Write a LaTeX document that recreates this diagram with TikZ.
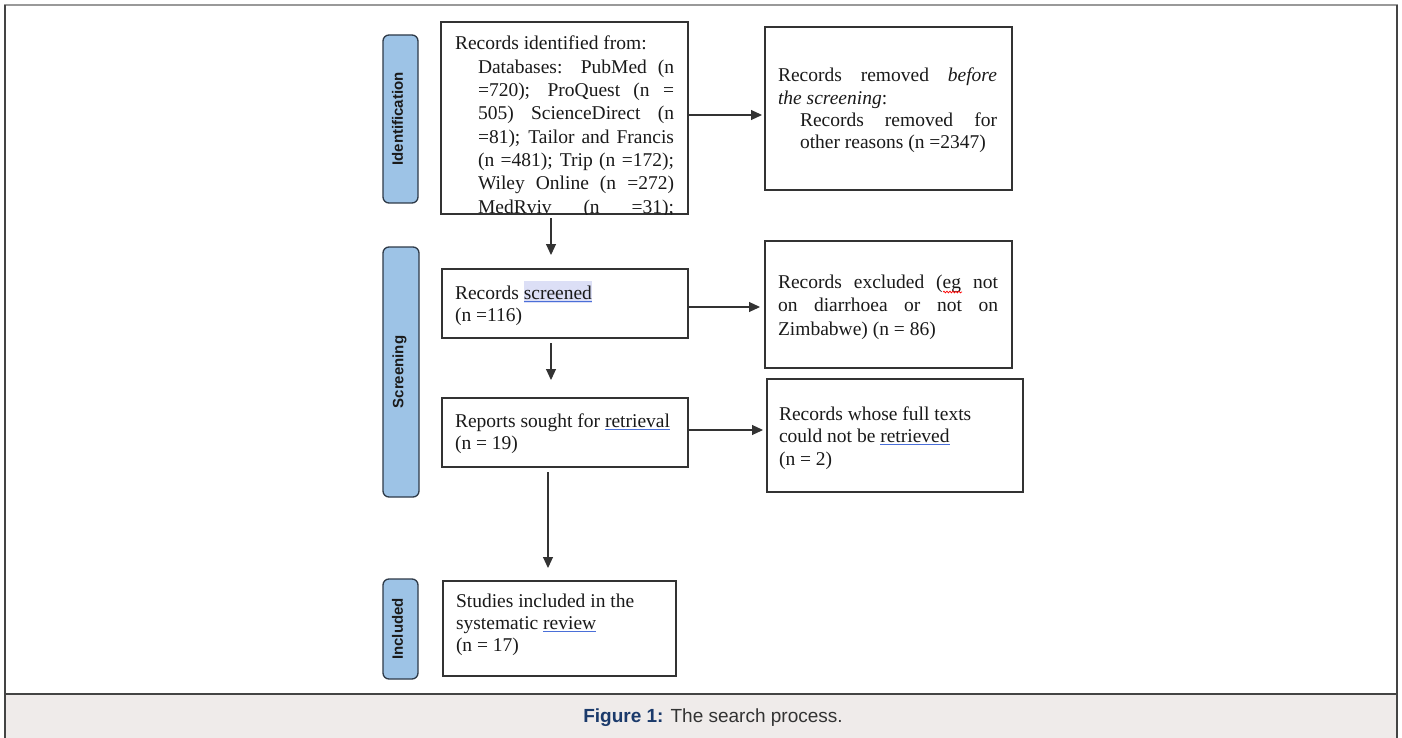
\documentclass[tikz,border=0pt]{standalone}
\usepackage{fontspec}
\setmainfont{Liberation Serif}
\setsansfont{Liberation Sans}
\usetikzlibrary{arrows.meta,decorations.pathmorphing}
\definecolor{pillfill}{HTML}{9DC3E6}
\definecolor{pillline}{HTML}{2E3A48}
\definecolor{boxline}{HTML}{333333}
\definecolor{txt}{HTML}{1A1A1A}
\definecolor{ulblue}{HTML}{4A6FD8}
\definecolor{hlcol}{HTML}{DCDFF6}
\definecolor{capbg}{HTML}{EFEBEA}
\definecolor{capblue}{HTML}{1B3A6B}
\definecolor{captxt}{HTML}{333333}
\definecolor{framedark}{HTML}{444444}
\definecolor{framegray}{HTML}{999999}
\newcommand{\jl}[2]{\hbox to #1{\spaceskip=0.25em plus 3em minus 0.08em\relax #2}}
\newcommand{\bul}[1]{{\setbox0\hbox{#1}\rlap{\textcolor{ulblue}{\rule[-2.8pt]{\wd0}{1.1pt}}}\box0}}
\newcommand{\hlbul}[1]{{\setbox0\hbox{#1}\rlap{\textcolor{hlcol}{\rule[-3.5pt]{\wd0}{22pt}}}\rlap{\textcolor{ulblue}{\rule[-2.8pt]{\wd0}{1.1pt}}}\box0}}
\begin{document}
\begin{tikzpicture}[x=1pt,y=-1pt,
  every node/.style={inner sep=0pt,outer sep=0pt},
  box/.style={draw=boxline,line width=1.1pt,rectangle},
  pill/.style={draw=pillline,fill=pillfill,line width=1.3pt,rounded corners=6pt,rectangle},
  pilllabel/.style={font=\sffamily\bfseries\fontsize{15pt}{18pt}\selectfont,text=txt,rotate=90,anchor=mid},
  btext/.style={anchor=base west,text=txt,font=\fontsize{19.5pt}{23pt}\selectfont},
  arr/.style={draw=boxline,line width=1.1pt,-{Triangle[length=11pt,width=10pt]}}]
\useasboundingbox (0,0) rectangle (1402,738);
\fill[white] (0,0) rectangle (1402,738);
% caption band and frame
\fill[capbg] (5,694) rectangle (1397,738);
\draw[framegray,line width=2pt] (4,5) -- (1398,5);
\draw[framedark,line width=2pt] (5,5) -- (5,738);
\draw[framedark,line width=2pt] (1397,5) -- (1397,738);
\draw[framedark,line width=1.5pt] (5,694) -- (1397,694);
\node[anchor=base,font=\sffamily\fontsize{19pt}{23pt}\selectfont,text=captxt] (cap) at (713,722)
  {\textcolor{capblue}{\bfseries Figure 1:} The search process.};

% side pills
\node[pill,minimum width=35pt,minimum height=168pt] (pid) at (400.5,119) {};
\node[pill,minimum width=36pt,minimum height=250pt] (pscr) at (401,372) {};
\node[pill,minimum width=35pt,minimum height=100pt] (pinc) at (400.5,629) {};
\node[pilllabel] (lid) at (pid.center) {Identification};
\node[pilllabel] (lscr) at (pscr.center) {Screening};
\node[pilllabel] (linc) at (pinc.center) {Included};

% boxes
\node[box,minimum width=247pt,minimum height=192pt] (id) at (564.5,118) {};
\node[box,minimum width=247pt,minimum height=163pt] (rem) at (888.5,108.5) {};
\node[box,minimum width=246pt,minimum height=69pt] (scr) at (565,303.5) {};
\node[box,minimum width=247pt,minimum height=127pt] (exc) at (888.5,304.5) {};
\node[box,minimum width=246pt,minimum height=69pt] (sgt) at (565,432.5) {};
\node[box,minimum width=256pt,minimum height=113pt] (nrt) at (895,435.5) {};
\node[box,minimum width=233pt,minimum height=95pt] (inc) at (559.5,628.5) {};

% texts
\begin{scope}
\clip (441,22) rectangle (688,214);
\node[btext] (tid) at (455,50) {\parbox[t]{230pt}{\baselineskip=23.3pt
  \hbox{Records identified from:}
  \moveright 23pt \jl{196pt}{Databases: PubMed (n}
  \moveright 23pt \jl{196pt}{=720); ProQuest (n =}
  \moveright 23pt \jl{196pt}{505) ScienceDirect (n}
  \moveright 23pt \jl{196pt}{=81); Tailor and Francis}
  \moveright 23pt \jl{196pt}{(n =481); Trip (n =172);}
  \moveright 23pt \jl{196pt}{Wiley Online (n =272)}
  \moveright 23pt \jl{196pt}{MedRviv (n =31);}}};
\end{scope}
\node[btext] (trem) at (778,82) {\parbox[t]{225pt}{\baselineskip=22.2pt
  \jl{219pt}{Records removed \textit{before}}
  \hbox{\textit{the screening}:}
  \moveright 22pt \jl{197pt}{Records removed for}
  \moveright 22pt \hbox{other reasons (n =2347)}}};
\node[btext] (tscr) at (455,299) {\parbox[t]{225pt}{\baselineskip=22pt
  \hbox{Records \hlbul{screened}}
  \hbox{(n =116)}}};
\node[btext] (texc) at (778,288) {\parbox[t]{225pt}{\baselineskip=23.5pt
  \jl{220pt}{Records excluded (eg not}
  \jl{220pt}{on diarrhoea or not on}
  \hbox{Zimbabwe) (n = 86)}}};
\node[btext] (tsgt) at (455,427) {\parbox[t]{225pt}{\baselineskip=22pt
  \hbox{Reports sought for \bul{retrieval}}
  \hbox{(n = 19)}}};
\node[btext] (tnrt) at (779,420) {\parbox[t]{235pt}{\baselineskip=22.5pt
  \hbox{Records whose full texts}
  \hbox{could not be \bul{retrieved}}
  \hbox{(n = 2)}}};
\node[btext] (tinc) at (456,607) {\parbox[t]{215pt}{\baselineskip=22pt
  \hbox{Studies included in the}
  \hbox{systematic \bul{review}}
  \hbox{(n = 17)}}};
\draw[red,line width=0.7pt,decorate,decoration={snake,segment length=3pt,amplitude=0.9pt}] (943,292) -- (962,292);

% connectors
\coordinate (colA) at (551,0);
\coordinate (colB) at (548,0);
\coordinate (rowA) at (0,115);
\coordinate (rowB) at (0,307);
\coordinate (rowC) at (0,430);
\draw[arr,shorten <=4pt,shorten >=14pt] (id.south -| colA) -- (scr.north -| colA);
\draw[arr,shorten <=5pt,shorten >=18pt] (scr.south -| colA) -- (sgt.north -| colA);
\draw[arr,shorten <=5pt,shorten >=13pt] (sgt.south -| colB) -- (inc.north -| colB);
\draw[arr,shorten >=3pt] (id.east |- rowA) -- (rem.west |- rowA);
\draw[arr,shorten >=5pt] (scr.east |- rowB) -- (exc.west |- rowB);
\draw[arr,shorten >=4pt] (sgt.east |- rowC) -- (nrt.west |- rowC);
\end{tikzpicture}
\end{document}
